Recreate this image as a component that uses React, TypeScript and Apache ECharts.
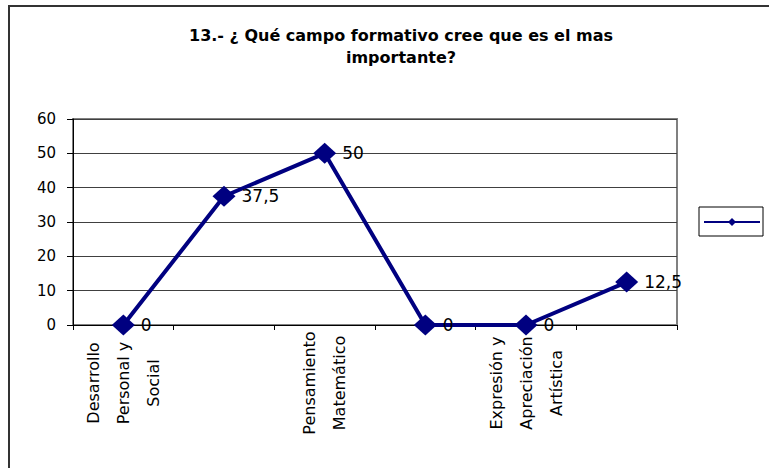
import React, { useEffect, useRef } from "react";
import * as echarts from "echarts";

const TITLE = "13.- ¿ Qué campo formativo cree que es el mas\nimportante?";
const categories = [
  "Desarrollo\nPersonal y\nSocial",
  "Lenguaje y\nComunicación",
  "Pensamiento\nMatemático",
  "Exploración y\nConocimiento\ndel Mundo",
  "Expresión y\nApreciación\nArtística",
  "Desarrollo\nFísico y\nSalud",
];
const values = [0, 37.5, 50, 0, 0, 12.5];
const seriesName = "Serie1";
const yMin = 0;
const yMax = 60;
const yStep = 10;

const FONT = "DejaVu Sans";
const NAVY = "#000080";

export default function App() {
  const ref = useRef<HTMLDivElement>(null);
  useEffect(() => {
    if (!ref.current) return;
    const chart = echarts.init(ref.current, undefined, { renderer: "svg" });
    chart.setOption({
      animation: false,
      backgroundColor: "#ffffff",
      title: {
        text: TITLE,
        left: 396,
        top: 19,
        textAlign: "center",
        textStyle: {
          fontFamily: FONT,
          fontSize: 16,
          fontWeight: "bold",
          color: "#000000",
          lineHeight: 22,
        },
      },
      graphic: [
        {
          type: "rect",
          shape: { x: 9, y: 6, width: 800, height: 500 },
          style: { fill: "none", stroke: "#333333", lineWidth: 2 },
          silent: true,
          z: 100,
        },
      ],
      legend: {
        show: true,
        left: 699,
        top: 207,
        orient: "vertical",
        itemWidth: 56,
        itemHeight: 10,
        itemGap: 0,
        padding: [10, 2, 10, 4],
        borderColor: "#000000",
        borderWidth: 1,
        formatter: () => "",
        textStyle: { fontSize: 1 },
        data: [seriesName],
      },
      grid: {
        left: 73,
        right: 92,
        top: 119,
        bottom: 143,
        show: true,
        borderColor: "#808080",
        borderWidth: 2,
        backgroundColor: "transparent",
      },
      xAxis: {
        type: "category",
        data: categories,
        boundaryGap: true,
        axisLine: { show: true, lineStyle: { color: "#000000", width: 1 } },
        axisTick: { show: true, length: 5, alignWithLabel: false, interval: 0, lineStyle: { color: "#000000" } },
        axisLabel: {
          interval: 1,
          rotate: 90,
          align: "center",
          verticalAlign: "middle",
          margin: 58,
          fontFamily: FONT,
          fontSize: 16,
          lineHeight: 30,
          color: "#000000",
        },
        splitLine: { show: false },
      },
      yAxis: {
        type: "value",
        min: yMin,
        max: yMax,
        interval: yStep,
        axisLine: { show: true, lineStyle: { color: "#000000", width: 1 } },
        axisTick: { show: true, length: 6, lineStyle: { color: "#000000" } },
        axisLabel: {
          margin: 17,
          fontFamily: FONT,
          fontSize: 15,
          color: "#000000",
        },
        splitLine: { show: true, lineStyle: { color: "#404040", width: 1 } },
      },
      series: [
        {
          name: seriesName,
          type: "line",
          data: values,
          symbol: "diamond",
          symbolSize: [23, 21],
          lineStyle: { color: NAVY, width: 4 },
          itemStyle: { color: NAVY },
          label: {
            show: true,
            position: "right",
            distance: 6,
            fontFamily: FONT,
            fontSize: 17,
            color: "#000000",
            formatter: (p: any) => String(p.value).replace(".", ","),
          },
          z: 5,
        },
      ],
    });
    return () => chart.dispose();
  }, []);
  return (
    <div
      ref={ref}
      style={{ position: "absolute", left: 0, top: 0, width: 769, height: 468 }}
    />
  );
}
